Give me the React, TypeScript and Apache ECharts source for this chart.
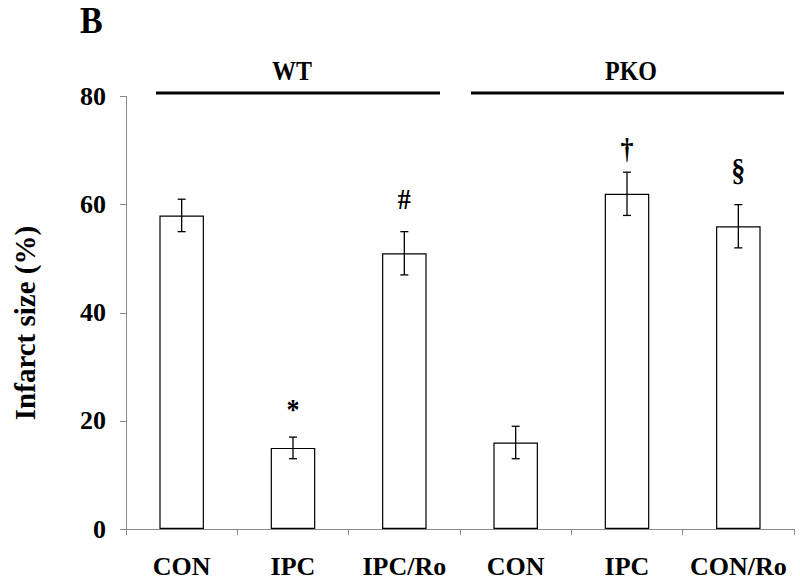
import React, { useEffect, useRef } from "react";
import * as echarts from "echarts";

const categories = ["CON", "IPC", "IPC/Ro", "CON", "IPC", "CON/Ro"];
const infarctSize = [58, 15, 51, 16, 62, 56];
const errorLow = [55, 13, 47, 13, 58, 52];
const errorHigh = [61, 17, 55, 19, 66, 60];
const markerText = ["", "*", "#", "", "\u2020", "\u00a7"];
const markerAt = [0, 22.3, 61, 0, 70.3, 66.3];
const yTicks = [0, 20, 40, 60, 80];

const SERIF = "'Liberation Serif', 'Times New Roman', serif";

export default function App() {
  const ref = useRef<HTMLDivElement>(null);
  useEffect(() => {
    if (!ref.current) return;
    const chart = echarts.init(ref.current, undefined, { renderer: "svg" });
    const axisGray = "#8a8a8a";
    const option: any = {
      animation: false,
      backgroundColor: "#ffffff",
      grid: { left: 126, right: 6, top: 96.5, bottom: 56, containLabel: false },
      xAxis: {
        type: "category",
        data: categories,
        boundaryGap: true,
        z: 5,
        axisLine: { show: true, lineStyle: { color: axisGray, width: 1 } },
        axisTick: { show: true, length: 6, interval: 0, lineStyle: { color: axisGray } },
        axisLabel: {
          interval: 0,
          margin: 24,
          color: "#000",
          fontFamily: SERIF,
          fontWeight: "bold",
          fontSize: 26,
        },
        splitLine: { show: false },
      },
      yAxis: {
        type: "value",
        min: yTicks[0],
        max: yTicks[yTicks.length - 1],
        interval: 20,
        z: 5,
        axisLine: { show: true, lineStyle: { color: axisGray, width: 1 } },
        axisTick: { show: true, length: 6, lineStyle: { color: axisGray } },
        axisLabel: {
          margin: 20,
          color: "#000",
          fontFamily: SERIF,
          fontWeight: "bold",
          fontSize: 26,
        },
        splitLine: { show: false },
      },
      series: [
        {
          type: "bar",
          data: infarctSize,
          barWidth: "40%",
          itemStyle: { color: "#ffffff", borderColor: "#000000", borderWidth: 1.2 },
          z: 2,
        },
        {
          type: "custom",
          data: categories.map((_, i) => [i, errorLow[i], errorHigh[i]]),
          z: 3,
          renderItem: (params: any, api: any) => {
            const i = api.value(0);
            const lo = api.coord([i, api.value(1)]);
            const hi = api.coord([i, api.value(2)]);
            const hw = 4;
            const style = { stroke: "#000", lineWidth: 1.3 };
            return {
              type: "group",
              children: [
                { type: "line", shape: { x1: lo[0], y1: lo[1], x2: hi[0], y2: hi[1] }, style },
                { type: "line", shape: { x1: lo[0] - hw, y1: lo[1], x2: lo[0] + hw, y2: lo[1] }, style },
                { type: "line", shape: { x1: hi[0] - hw, y1: hi[1], x2: hi[0] + hw, y2: hi[1] }, style },
              ],
            };
          },
        },
        {
          type: "custom",
          data: categories.map((_, i) => [i, markerAt[i]]),
          z: 4,
          renderItem: (params: any, api: any) => {
            const i = api.value(0);
            const t = markerText[i];
            if (!t) return null;
            const p = api.coord([i, api.value(1)]);
            return {
              type: "text",
              x: p[0],
              y: p[1],
              scaleY: 1.15,
              style: {
                text: t,
                fill: "#000",
                font: `bold ${t === "\u00a7" ? 28 : 26}px ${SERIF}`,
                align: "center",
                verticalAlign: "middle",
              },
            };
          },
        },
      ],
      graphic: [
        {
          type: "text",
          x: 80,
          y: 1,
          scaleY: 1.12,
          style: { text: "B", fill: "#000", font: `bold 34px ${SERIF}` },
        },
        {
          type: "text",
          x: 25,
          y: 323,
          rotation: Math.PI / 2,
          style: {
            text: "Infarct size (%)",
            fill: "#000",
            font: `bold 29px ${SERIF}`,
            align: "center",
            verticalAlign: "middle",
          },
        },
        {
          type: "text",
          x: 292,
          y: 71,
          scaleY: 1.15,
          style: { text: "WT", fill: "#000", font: `bold 24px ${SERIF}`, align: "center", verticalAlign: "middle" },
        },
        {
          type: "text",
          x: 631,
          y: 71,
          scaleY: 1.15,
          style: { text: "PKO", fill: "#000", font: `bold 24px ${SERIF}`, align: "center", verticalAlign: "middle" },
        },
        {
          type: "line",
          shape: { x1: 156, y1: 93, x2: 440, y2: 93 },
          style: { stroke: "#000", lineWidth: 3 },
        },
        {
          type: "line",
          shape: { x1: 471, y1: 93, x2: 784, y2: 93 },
          style: { stroke: "#000", lineWidth: 3 },
        },
      ],
    };
    chart.setOption(option);
    return () => chart.dispose();
  }, []);
  return <div ref={ref} style={{ width: 800, height: 585, position: "fixed", left: 0, top: 0 }} />;
}
